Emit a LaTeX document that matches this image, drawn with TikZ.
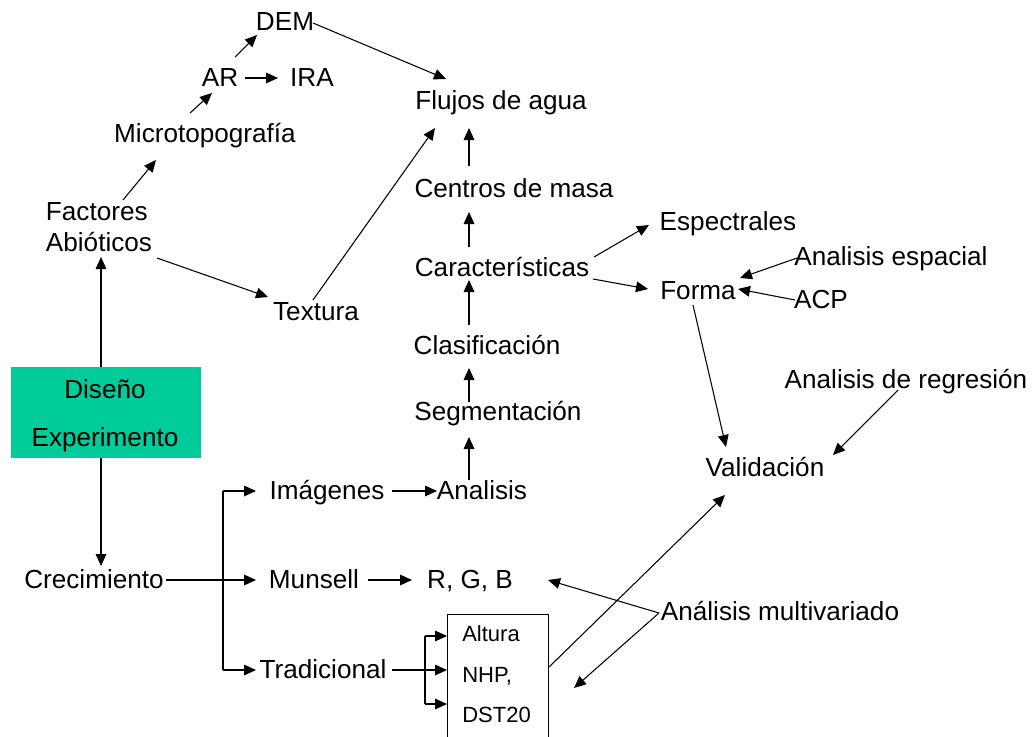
\documentclass[tikz,border=0pt]{standalone}
\usepackage{fontspec}
\setmainfont{Liberation Sans}
\usetikzlibrary{arrows.meta,calc}
\definecolor{verde}{HTML}{00CC99}
\begin{document}
\begin{tikzpicture}[x=0.75pt,y=-0.75pt,
  lbl/.style={inner sep=0pt, anchor=mid, font=\fontsize{19.6}{23}\selectfont,
              execute at begin node={\lower3.75pt\hbox\bgroup}, execute at end node={\egroup}},
  sml/.style={inner sep=0pt, anchor=mid west, font=\fontsize{16.5}{20}\selectfont,
              execute at begin node={\lower3.5pt\hbox\bgroup}, execute at end node={\egroup}},
  arr/.style={-{Triangle[length=9pt,width=8pt]}, line width=0.8pt},
  ln/.style={line width=0.8pt}]
\useasboundingbox (0,0) rectangle (1034,736);
% nodes
\node[lbl] (dem) at (285,22) {DEM};
\node[lbl] (ar) at (220,78) {AR};
\node[lbl] (ira) at (312,78) {IRA};
\node[lbl] (micro) at (205,134) {Microtopografía};
\node[inner sep=0pt, align=left, font=\fontsize{19.6}{23.25}\selectfont] (fact) at (99,227) {Factores\\Abióticos};
\node[lbl] (textura) at (316,312) {Textura};
\node[lbl] (flujos) at (501,101) {Flujos de agua};
\node[lbl] (centros) at (514,189) {Centros de masa};
\node[lbl] (carac) at (502,268) {Características};
\node[lbl] (clasif) at (487,346) {Clasificación};
\node[lbl] (segm) at (498,412) {Segmentación};
\node[lbl] (analisis) at (482,491) {Analisis};
\node[lbl] (espec) at (728,222) {Espectrales};
\node[lbl] (aesp) at (891,257) {Analisis espacial};
\node[lbl] (forma) at (698,291) {Forma};
\node[lbl] (acp) at (821,300) {ACP};
\node[lbl] (areg) at (906,380) {Analisis de regresión};
\node[lbl] (valid) at (765,468) {Validación};
\node[lbl] (img) at (327,491) {Imágenes};
\node[lbl] (muns) at (314,580) {Munsell};
\node[lbl] (rgb) at (470,580) {R, G, B};
\node[lbl] (trad) at (323,670) {Tradicional};
\node[lbl] (amul) at (780,612) {Análisis multivariado};
\node[lbl] (crec) at (94,580) {Crecimiento};
\node[fill=verde, minimum width=142.5pt, minimum height=68.25pt, inner sep=0pt] (diseno) at (105.5,412.5) {};
\node[lbl] (dis1) at (105,390) {Diseño};
\node[lbl] (dis2) at (105,438) {Experimento};
\node[draw, line width=0.8pt, minimum width=75.75pt, minimum height=97.5pt, anchor=north west, inner sep=0pt] (box) at (447,614) {};
\node[sml] (altura) at (462,633) {Altura};
\node[sml] (nhp) at (462,674) {NHP,};
\node[sml] (dst) at (462,714) {DST20};
\coordinate (br) at (223,580);
\coordinate (tb) at (425,670);
% connectors
\draw[arr] ($(ar.mid)+(15,-21)$) -- ($(dem.mid)+(-28,13)$);
\draw[arr] ($(micro.mid)+(-15,-21)$) -- ($(ar.mid)+(-8,15)$);
\draw[arr] ($(ar.mid)+(25,0)$) -- ($(ira.mid)+(-34,0)$);
\draw[arr] ($(fact.center)+(24,-27)$) -- ($(micro.mid)+(-49,26)$);
\draw[arr] ($(fact.center)+(58,31)$) -- ($(textura.mid)+(-48,-15)$);
\draw[arr] ($(textura.mid)+(-3,-12)$) -- ($(flujos.mid)+(-66,27)$);
\draw[arr] ($(dem.mid)+(28,1)$) -- ($(flujos.mid)+(-55,-22)$);
\draw[arr] ($(centros.mid)+(-45,-23)$) -- ($(flujos.mid)+(-32,27)$);
\draw[arr] ($(carac.mid)+(-33,-21)$) -- ($(centros.mid)+(-45,23)$);
\draw[arr] ($(clasif.mid)+(-18,-21)$) -- ($(carac.mid)+(-33,12)$);
\draw[arr] ($(segm.mid)+(-29,-10)$) -- ($(clasif.mid)+(-18,22)$);
\draw[arr] ($(analisis.mid)+(-13,-11)$) -- ($(segm.mid)+(-29,25)$);
\draw[arr] ($(carac.mid)+(92,-11)$) -- ($(espec.mid)+(-79,3)$);
\draw[arr] ($(carac.mid)+(91,11)$) -- ($(forma.mid)+(-50,-2)$);
\draw[arr] ($(aesp.mid)+(-94,1)$) -- ($(forma.mid)+(42,-13)$);
\draw[arr] ($(acp.mid)+(-26,0)$) -- ($(forma.mid)+(40,-2)$);
\draw[arr] ($(forma.mid)+(-5,14)$) -- ($(valid.mid)+(-39,-21)$);
\draw[arr] ($(areg.mid)+(-8,10)$) -- ($(valid.mid)+(68,-13)$);
\draw[arr] ($(box.north east)+(0,53)$) -- ($(valid.mid)+(-40,27)$);
\draw[arr] ($(amul.mid)+(-121,1)$) -- ($(rgb.mid)+(78,0)$);
\draw[arr] ($(amul.mid)+(-121,1)$) -- ($(box.north east)+(25,74)$);
\draw[arr] ($(diseno.north)+(-4.5,0)$) -- ($(fact.center)+(2,30)$);
\draw[arr] ($(diseno.south)+(-4.5,0)$) -- ($(crec.mid)+(7,-14)$);
\draw[arr] ($(crec.mid)+(72,0)$) -- ($(muns.mid)+(-58,0)$);
\draw[ln] (br |- img.mid) -- (br |- trad.mid);
\draw[arr] (br |- img.mid) -- ($(img.mid)+(-71,0)$);
\draw[arr] (br |- trad.mid) -- ($(trad.mid)+(-67,0)$);
\draw[arr] ($(img.mid)+(65,0)$) -- ($(analisis.mid)+(-45,0)$);
\draw[arr] ($(muns.mid)+(54,0)$) -- ($(rgb.mid)+(-58,0)$);
\draw[ln] ($(trad.mid)+(69,0)$) -- (tb);
\draw[ln] ($(box.north west)+(-22,22)$) -- ($(box.north west)+(-22,90)$);
\draw[arr] ($(box.north west)+(-22,22)$) -- ($(box.north west)+(0,22)$);
\draw[arr] ($(box.north west)+(-22,56)$) -- ($(box.north west)+(0,56)$);
\draw[arr] ($(box.north west)+(-22,90)$) -- ($(box.north west)+(0,90)$);
\end{tikzpicture}
\end{document}
